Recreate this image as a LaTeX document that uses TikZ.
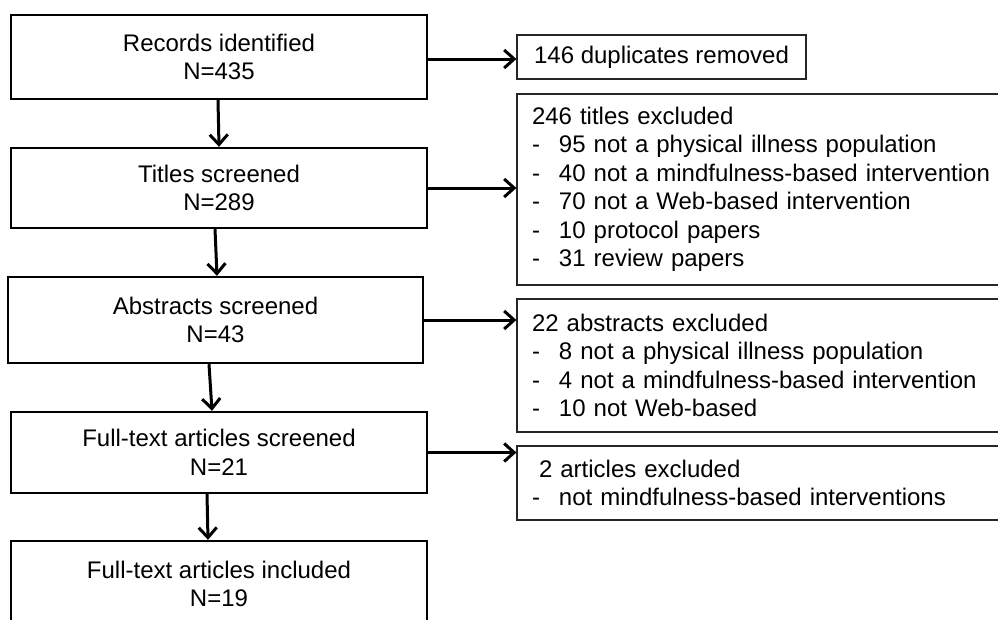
\documentclass[tikz,border=0pt]{standalone}
\usepackage{fontspec}
\setmainfont{Liberation Sans}
\usetikzlibrary{arrows.meta}

\newcommand{\itm}[1]{\makebox[27pt][l]{-}#1}

\begin{document}
\begin{tikzpicture}[x=1pt,y=-1pt,
  stage/.style={draw,line width=2.4pt,inner sep=0pt,minimum width=416pt,align=center,
    font=\fontsize{24}{28.5}\selectfont},
  excl/.style={draw=black!85,line width=1.2pt,inner sep=0pt,align=left,
    font=\fontsize{24}{28.5}\selectfont},
  flow/.style={line width=3pt,-{Straight Barb[length=10pt,width=18pt]}}]
\useasboundingbox (0,0) rectangle (998,619);
\clip (0,0) rectangle (998,619);

% Screening stages
\node[stage,minimum height=84pt] (rec) at (219,57) {Records identified\\N=435};
\node[stage,minimum height=80pt] (tit) at (219,188) {Titles screened\\N=289};
\node[stage,minimum height=86pt,minimum width=415pt] (abs) at (215.5,320) {Abstracts screened\\N=43};
\node[stage,minimum height=81pt] (ful) at (219,452.5) {Full-text articles screened\\N=21};
\node[stage,minimum height=86pt] (inc) at (219,584) {Full-text articles included\\N=19};

% Exclusions
\node[excl,minimum width=289pt,minimum height=44pt,align=center] (dup) at (661.5,57) {146 duplicates removed};
\node[excl,minimum width=493pt,minimum height=191pt,text width=463pt] (ttl) at (763.5,189.5)
  {246 titles excluded\\
   \itm{95 not a physical illness population}\\
   \itm{40 not a mindfulness-based intervention}\\
   \itm{70 not a Web-based intervention}\\
   \itm{10 protocol papers}\\
   \itm{31 review papers}};
\node[excl,minimum width=493pt,minimum height=133pt,text width=463pt] (abx) at (763.5,365.5)
  {22 abstracts excluded\\
   \itm{8 not a physical illness population}\\
   \itm{4 not a mindfulness-based intervention}\\
   \itm{10 not Web-based}};
\node[excl,minimum width=493pt,minimum height=74pt,text width=463pt] (art) at (763.5,483)
  {\hspace*{7pt}2 articles excluded\\
   \itm{not mindfulness-based interventions}};

% Downward arrows
\draw[flow] ([xshift=-1pt]rec.south) -- (tit.north);
\draw[flow] ([xshift=-4pt]tit.south) -- ([xshift=1.5pt]abs.north);
\draw[flow] ([xshift=-6.5pt]abs.south) -- ([xshift=-7pt]ful.north);
\draw[flow] ([xshift=-12pt]ful.south) -- ([xshift=-11pt]inc.north);

% Sideways arrows
\draw[flow] ([yshift=-2pt]rec.east) -- ([yshift=-2pt]rec.east -| dup.west);
\draw[flow] (tit.east) -- (tit.east -| ttl.west);
\draw[flow] (abs.east) -- (abs.east -| abx.west);
\draw[flow] (ful.east) -- (ful.east -| art.west);
\end{tikzpicture}
\end{document}
